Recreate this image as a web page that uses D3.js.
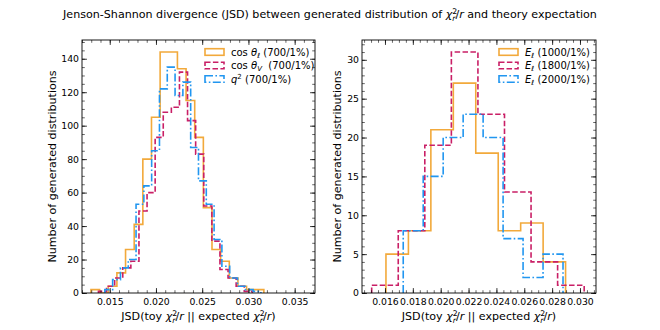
<!DOCTYPE html>
<html>
<head>
<meta charset="utf-8">
<script src="https://cdn.jsdelivr.net/npm/d3@7"></script>
<style>
  body { margin: 0; background: #fff; }
  svg { display: block; font-family: "DejaVu Sans", sans-serif; }
  text { white-space: pre; }
</style>
</head>
<body>
<svg id="chart" width="660" height="330"></svg>
<script>
// ---- data: left panel (angular observables / q2) ----
const leftStarts = [0.01297, 0.01378, 0.01447];
const leftWidths = [0.000935, 0.000876, 0.000844];
const cosThetaLCounts = [2, 0, 4, 12, 26, 41, 80, 105, 144, 144, 134, 115, 93, 51, 26, 19, 9, 4, 2, 2];
const cosThetaVCounts = [1, 4, 9, 15, 19, 49, 60, 93, 108, 111, 132, 103, 83, 52, 31, 14, 9, 4, 1];
const q2Counts = [2, 8, 15, 20, 53, 64, 85, 122, 135, 118, 126, 87, 67, 53, 32, 16, 9, 4, 2, 1];
const leftLabels = [
    [["cos ", "n"], ["θ", "i"], ["ℓ", "sb"], [" (700/1%)", "n"]],
    [["cos ", "n"], ["θ", "i"], ["V", "sb"], ["  (700/1%)", "n"]],
    [["q", "i"], ["2", "sp"], [" (700/1%)", "n"]]
];
const leftXTicks = [0.015, 0.020, 0.025, 0.030, 0.035];
const leftYTicks = [0, 20, 40, 60, 80, 100, 120, 140];

// ---- data: right panel (lepton energy) ----
const rightStarts = [0.01607, 0.015045, 0.01731];
const rightWidths = [0.001612, 0.001907, 0.001434];
const e1000Counts = [5, 8, 21, 27, 18, 8, 9, 4];
const e1800Counts = [1, 8, 19, 31, 23, 13, 4, 1];
const e2000Counts = [8, 15, 20, 23, 20, 7, 2, 5];
const rightLabels = [
    [["E", "i"], ["ℓ", "sb"], [" (1000/1%)", "n"]],
    [["E", "i"], ["ℓ", "sb"], [" (1800/1%)", "n"]],
    [["E", "i"], ["ℓ", "sb"], [" (2000/1%)", "n"]]
];
const rightXTicks = [0.016, 0.018, 0.020, 0.022, 0.024, 0.026, 0.028, 0.030];
const rightYTicks = [0, 5, 10, 15, 20, 25, 30];

const colors = ["#F2A93B", "#C91F66", "#2196F0"];
const dashes = [null, "5.5,2.4", "8,2.4,1.6,2.4"];

const svg = d3.select("#chart");
const plotTop = 40, plotBottom = 293;
const tickFont = 9.3;

/**
 * Appends tspans for a small mathtext-like label.
 * kinds: n normal, i italic, sb italic subscript, sp superscript, chi chi^2_r
 */
function richText(sel, parts, fs) {
    let base = 0;
    const add = (t, o) => {
        const off = o.off || 0;
        const ts = sel.append("tspan").text(t).attr("dy", off - base);
        base = off;
        if (o.italic) ts.attr("font-style", "italic");
        if (o.small) ts.attr("font-size", fs * 0.7);
        if (o.dx) ts.attr("dx", o.dx);
    };
    parts.forEach(([t, k]) => {
        if (k === "n") add(t, {});
        else if (k === "i") add(t, {italic: true});
        else if (k === "sb") add(t, {italic: true, small: true, off: fs * 0.22});
        else if (k === "sp") add(t, {small: true, off: -fs * 0.38});
        else if (k === "chi") {
            add("χ", {italic: true});
            add("2", {small: true, off: -fs * 0.4});
            add("r", {italic: true, small: true, off: fs * 0.25, dx: -fs * 0.7 * 0.636});
        }
    });
    return sel;
}

const xLabelParts = [["JSD(toy ", "n"], ["", "chi"], ["/", "n"], ["r", "i"],
    [" || expected ", "n"], ["", "chi"], ["/", "n"], ["r", "i"], [")", "n"]];

function drawPanel(p) {
    const x = d3.scaleLinear().domain(p.xDomain).range([p.left, p.right]);
    const y = d3.scaleLinear().domain(p.yDomain).range([plotBottom, plotTop]);
    const g = svg.append("g");

    // clip for histogram lines
    svg.append("clipPath").attr("id", p.id + "clip")
        .append("rect").attr("x", p.left).attr("y", plotTop)
        .attr("width", p.right - p.left).attr("height", plotBottom - plotTop);

    const line = d3.line().x(d => x(d[0])).y(d => y(d[1]));
    const hist = g.append("g").attr("clip-path", `url(#${p.id}clip)`);
    p.counts.forEach((counts, s) => {
        const start = p.starts[s], w = p.widths[s];
        const pts = [[start, 0]];
        counts.forEach((c, i) => {
            pts.push([start + i * w, c]);
            pts.push([start + (i + 1) * w, c]);
        });
        pts.push([start + counts.length * w, 0]);
        hist.append("path")
            .attr("d", line(pts))
            .attr("fill", "none")
            .attr("stroke", colors[s])
            .attr("stroke-width", 1.6)
            .attr("stroke-dasharray", dashes[s]);
    });

    // minor tick values
    const minorX = d3.range(p.xDomain[0], p.xDomain[1], p.xMinor)
        .map(v => Math.round(v / p.xMinor) * p.xMinor)
        .filter(v => v >= p.xDomain[0] && v <= p.xDomain[1]);
    const minorY = d3.range(0, p.yDomain[1], p.yMinor);

    const axes = [
        [d3.axisBottom(x).tickValues(p.xTicks).tickFormat(d3.format(".3f")), `translate(0,${plotBottom})`, true, minorX],
        [d3.axisTop(x).tickValues(p.xTicks), `translate(0,${plotTop})`, false, minorX],
        [d3.axisLeft(y).tickValues(p.yTicks).tickFormat(d3.format("d")), `translate(${p.left},0)`, true, minorY],
        [d3.axisRight(y).tickValues(p.yTicks), `translate(${p.right},0)`, false, minorY]
    ];
    axes.forEach(([ax, tr, labels, minor]) => {
        const a = g.append("g").attr("transform", tr)
            .call(ax.tickSize(-4.9).tickSizeOuter(0).tickPadding(labels ? 3 : 0));
        a.select(".domain").remove();
        a.selectAll("line").attr("stroke", "#000").attr("stroke-width", 0.8);
        if (labels) a.selectAll("text").attr("font-size", tickFont).attr("fill", "#000")
            .attr("font-family", "DejaVu Sans");
        else a.selectAll("text").remove();
        const m = g.append("g").attr("transform", tr)
            .call(ax.tickValues(minor).tickSize(-2.8).tickFormat(""));
        m.select(".domain").remove();
        m.selectAll("line").attr("stroke", "#000").attr("stroke-width", 0.6);
        m.selectAll("text").remove();
    });
    // bottom tick label spacing
    g.selectAll("text").filter(function() { return this.getAttribute("dy") === "0.71em"; })
        .attr("y", 5);

    g.append("rect")
        .attr("x", p.left).attr("y", plotTop)
        .attr("width", p.right - p.left).attr("height", plotBottom - plotTop)
        .attr("fill", "none").attr("stroke", "#000").attr("stroke-width", 0.9);

    // legend
    p.labels.forEach((parts, s) => {
        const cy = 52 + s * 13.5;
        g.append("rect")
            .attr("x", p.legendX).attr("y", cy - 3.3)
            .attr("width", 19).attr("height", 6.6)
            .attr("fill", "none")
            .attr("stroke", colors[s])
            .attr("stroke-width", 1.6)
            .attr("stroke-dasharray", dashes[s]);
        richText(g.append("text")
            .attr("x", p.legendX + 26).attr("y", cy + 3.5)
            .attr("font-size", 10), parts, 10);
    });

    // axis labels
    const cx = (p.left + p.right) / 2;
    richText(g.append("text")
        .attr("x", cx).attr("y", 320)
        .attr("text-anchor", "middle")
        .attr("font-size", 11.1), xLabelParts, 11.1);
    g.append("text")
        .attr("transform", `translate(${p.yLabelX},${(plotTop + plotBottom) / 2}) rotate(-90)`)
        .attr("text-anchor", "middle")
        .attr("font-size", 11.1)
        .text("Number of generated distributions");
}

drawPanel({
    id: "l", left: 82, right: 315,
    xDomain: [0.0120, 0.0372], yDomain: [0, 151.2],
    xTicks: leftXTicks, yTicks: leftYTicks, xMinor: 0.001, yMinor: 5,
    starts: leftStarts, widths: leftWidths,
    counts: [cosThetaLCounts, cosThetaVCounts, q2Counts],
    labels: leftLabels, legendX: 205, yLabelX: 56
});

drawPanel({
    id: "r", left: 362, right: 596,
    xDomain: [0.01435, 0.03115], yDomain: [0, 32.55],
    xTicks: rightXTicks, yTicks: rightYTicks, xMinor: 0.0005, yMinor: 1,
    starts: rightStarts, widths: rightWidths,
    counts: [e1000Counts, e1800Counts, e2000Counts],
    labels: rightLabels, legendX: 499, yLabelX: 341
});

// figure title
richText(svg.append("text")
    .attr("x", 330).attr("y", 18)
    .attr("text-anchor", "middle")
    .attr("font-size", 11.1),
    [["Jenson-Shannon divergence (JSD) between generated distribution of ", "n"], ["", "chi"],
     ["/", "n"], ["r", "i"], [" and theory expectation", "n"]], 11.1);
</script>
</body>
</html>
